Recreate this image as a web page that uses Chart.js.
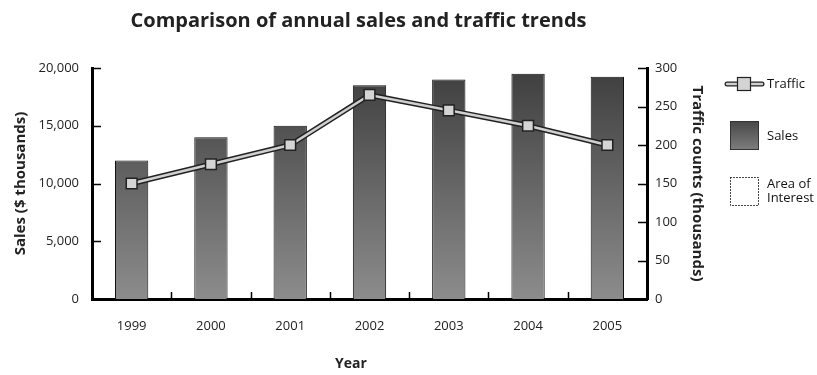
<!DOCTYPE html>
<html>
<head>
<meta charset="utf-8">
<title>Annual sales and traffic</title>
<script src="https://cdn.jsdelivr.net/npm/chart.js@4/dist/chart.umd.min.js"></script>
<style>
  html, body { margin: 0; padding: 0; background: #fff; }
  #wrap { width: 817px; height: 375px; }
</style>
</head>
<body>
<div id="wrap"><canvas id="salesChart"></canvas></div>
<script>
// Data
const years = ["1999", "2000", "2001", "2002", "2003", "2004", "2005"];
const sales = [12000, 14000, 15000, 18500, 19000, 19500, 19250];   // $ thousands
const traffic = [150, 175, 200, 265, 245, 225, 200];              // thousands
const salesTicks = [0, 5000, 10000, 15000, 20000];
const trafficTicks = [0, 50, 100, 150, 200, 250, 300];

const FONT = "'Open Sans', sans-serif";

// Bar fill: dark at the top of the plot, lighter toward the baseline
function barGradient(context) {
  const area = context.chart.chartArea;
  if (!area) return "#666";
  const g = context.chart.ctx.createLinearGradient(0, area.top, 0, area.bottom);
  g.addColorStop(0, "#3e3e3e");
  g.addColorStop(1, "#8c8c8c");
  return g;
}

// Inward tick marks, the x-axis title and the side legend
const decorations = {
  id: "decorations",
  afterDraw(chart) {
    const ctx = chart.ctx;
    const x = chart.scales.x;
    const yL = chart.scales.ySales;
    const yR = chart.scales.yTraffic;
    const area = chart.chartArea;

    ctx.save();
    ctx.strokeStyle = "#000";
    ctx.lineWidth = 1.5;
    ctx.beginPath();
    salesTicks.forEach(v => {
      if (v === 0) return;
      const py = Math.round(yL.getPixelForValue(v)) + 0.5;
      ctx.moveTo(area.left, py);
      ctx.lineTo(area.left + 9, py);
    });
    trafficTicks.forEach(v => {
      if (v === 0) return;
      const py = Math.round(yR.getPixelForValue(v)) + 0.5;
      ctx.moveTo(area.right - 9, py);
      ctx.lineTo(area.right, py);
    });
    for (let i = 0; i < years.length - 1; i++) {
      const px = Math.round((x.getPixelForValue(i) + x.getPixelForValue(i + 1)) / 2) + 0.5;
      ctx.moveTo(px, area.bottom);
      ctx.lineTo(px, area.bottom - 7);
    }
    ctx.stroke();

    // x axis title
    ctx.fillStyle = "#222";
    ctx.font = "bold 14px " + FONT;
    ctx.textAlign = "center";
    ctx.textBaseline = "middle";
    ctx.fillText("Year", 351, 364);

    // legend
    ctx.font = "13px " + FONT;
    ctx.textAlign = "left";
    ctx.fillStyle = "#111";

    // Traffic: line with square marker
    const ly = 84;
    ctx.lineCap = "round";
    ctx.strokeStyle = "#222";
    ctx.lineWidth = 5;
    ctx.beginPath(); ctx.moveTo(727, ly); ctx.lineTo(762, ly); ctx.stroke();
    ctx.strokeStyle = "#d0d0d0";
    ctx.lineWidth = 2.5;
    ctx.beginPath(); ctx.moveTo(727, ly); ctx.lineTo(762, ly); ctx.stroke();
    ctx.fillStyle = "#d4d4d4";
    ctx.fillRect(737.5, ly - 6.5, 13, 13);
    ctx.strokeStyle = "#222";
    ctx.lineWidth = 1.2;
    ctx.strokeRect(737.5, ly - 6.5, 13, 13);
    ctx.fillStyle = "#111";
    ctx.fillText("Traffic", 767, ly);

    // Sales: gradient box
    const sg = ctx.createLinearGradient(0, 121, 0, 149);
    sg.addColorStop(0, "#474747");
    sg.addColorStop(1, "#7c7c7c");
    ctx.fillStyle = sg;
    ctx.fillRect(730.5, 121.5, 28, 28);
    ctx.strokeStyle = "#333";
    ctx.lineWidth = 1;
    ctx.strokeRect(730.5, 121.5, 28, 28);
    ctx.fillStyle = "#111";
    ctx.fillText("Sales", 767, 136);

    // Area of interest: dotted box
    ctx.setLineDash([1, 2]);
    ctx.strokeStyle = "#333";
    ctx.strokeRect(730.5, 177.5, 28, 28);
    ctx.setLineDash([]);
    ctx.fillText("Area of", 767, 184);
    ctx.fillText("Interest", 767, 198);
    ctx.restore();
  }
};

new Chart(document.getElementById("salesChart"), {
  data: {
    labels: years,
    datasets: [
      {
        // light core of the traffic line, with markers
        type: "line",
        label: "Traffic",
        data: traffic,
        yAxisID: "yTraffic",
        borderColor: "#d0d0d0",
        borderWidth: 2.5,
        pointStyle: "rect",
        pointRadius: 7.6,
        pointBackgroundColor: "#d4d4d4",
        pointBorderColor: "#222",
        pointBorderWidth: 1.5,
        tension: 0,
        order: 0
      },
      {
        // dark outline under the traffic line
        type: "line",
        label: "Traffic outline",
        data: traffic,
        yAxisID: "yTraffic",
        borderColor: "#222",
        borderWidth: 5.5,
        pointRadius: 0,
        tension: 0,
        order: 1
      },
      {
        type: "bar",
        label: "Sales",
        data: sales,
        yAxisID: "ySales",
        backgroundColor: barGradient,
        borderColor: "#111",
        borderWidth: 1,
        categoryPercentage: 0.42,
        barPercentage: 1,
        order: 2
      }
    ]
  },
  options: {
    responsive: true,
    maintainAspectRatio: false,
    animation: false,
    events: [],
    layout: { padding: { top: 0, right: 100, bottom: 0, left: 0 } },
    plugins: {
      legend: { display: false },
      tooltip: { enabled: false },
      title: {
        display: true,
        text: "Comparison of annual sales and traffic trends",
        color: "#222",
        font: { family: FONT, size: 20, weight: "bold" },
        padding: { top: 9, bottom: 35 }
      }
    },
    scales: {
      x: {
        grid: { display: false },
        border: { color: "#000", width: 3 },
        ticks: { color: "#222", font: { family: FONT, size: 13 }, padding: 11, maxRotation: 0 },
        afterFit(scale) { scale.height = 76; }
      },
      ySales: {
        position: "left",
        min: 0,
        max: 20000,
        grid: { display: false },
        border: { color: "#000", width: 3 },
        ticks: {
          stepSize: 5000,
          color: "#222",
          padding: 5,
          font: { family: FONT, size: 13 },
          callback: v => v.toLocaleString("en-US")
        },
        title: {
          display: true,
          text: "Sales ($ thousands)",
          color: "#222",
          font: { family: FONT, size: 15, weight: "bold" },
          padding: { top: 12, bottom: 0 }
        },
        afterFit(scale) { scale.width = 92; }
      },
      yTraffic: {
        position: "right",
        min: 0,
        max: 300,
        grid: { display: false },
        border: { color: "#000", width: 3 },
        ticks: {
          stepSize: 50,
          color: "#222",
          padding: 0,
          font: { family: FONT, size: 13 }
        },
        title: {
          display: true,
          text: "Traffic counts (thousands)",
          color: "#222",
          font: { family: FONT, size: 15, weight: "bold" },
          padding: { top: 11, bottom: 0 }
        },
        afterFit(scale) { scale.width = 70; }
      }
    }
  },
  plugins: [decorations]
});
</script>
</body>
</html>
